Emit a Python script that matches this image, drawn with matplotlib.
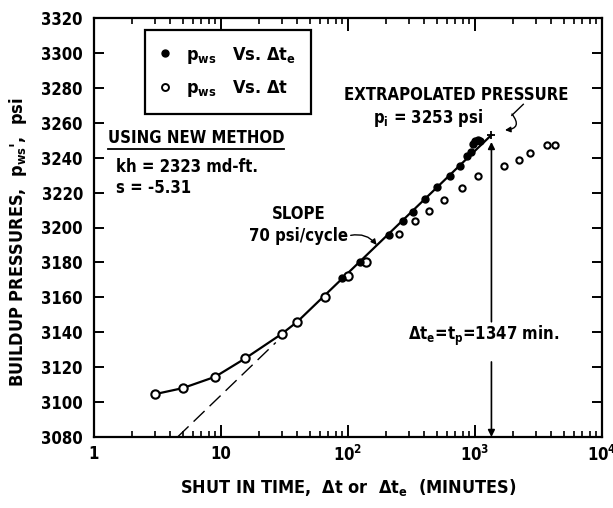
import numpy as np
import matplotlib
matplotlib.use("Agg")
import matplotlib.pyplot as plt
from matplotlib.lines import Line2D

# shut-in pressure vs. equivalent time (filled) and vs. plain shut-in time (open)
dte_min = [90, 125, 210, 272, 327, 404, 506, 635, 762, 872, 926, 965, 1005, 1050, 1095]
pws_dte = [3171, 3180.5, 3195.7, 3203.5, 3209, 3216.5, 3223, 3229.7, 3235.2, 3241,
           3243.5, 3248, 3249.5, 3250, 3249.5]

dt_min = [3, 5, 9, 15.5, 30, 40, 66, 100, 139, 252, 339, 432, 574, 790, 1064,
          1695, 2240, 2704, 3683, 4285]
pws_dt = [3104.5, 3108, 3114.5, 3125, 3139, 3146, 3160, 3172, 3180.5, 3196, 3204,
          3209.5, 3216, 3222.5, 3229.5, 3235, 3238.5, 3242.5, 3247, 3247]

# semilog straight line
p_i = 3253      # psi
slope = 70      # psi/cycle
t_p = 1347      # min
kh = 2323
skin = -5.31

x_ticks = [1, 10, 100, 1000, 10000]
x_ticklabels = ["1", "10", "10$^2$", "10$^3$", "10$^4$"]
y_ticks = list(range(3080, 3321, 20))

plt.rcParams["font.family"] = ["DejaVu Sans"]
plt.rcParams["font.stretch"] = "condensed"
plt.rcParams["font.weight"] = "bold"
plt.rcParams["axes.labelweight"] = "bold"
plt.rcParams["mathtext.fontset"] = "custom"
plt.rcParams["mathtext.rm"] = "DejaVu Sans:weight=bold:stretch=condensed"
plt.rcParams["mathtext.it"] = "DejaVu Sans:weight=bold:stretch=condensed"
plt.rcParams["mathtext.bf"] = "DejaVu Sans:weight=bold:stretch=condensed"
plt.rcParams["mathtext.default"] = "rm"

FS = 12


def mtr(t):
    return p_i - slope * np.log10(t_p / np.asarray(t, dtype=float))


fig = plt.figure(figsize=(6.13, 5.08), dpi=100)
ax = fig.add_axes([94 / 613, 71 / 508, 508 / 613, 419 / 508])
ax.set_xscale("log")
ax.set_xlim(1, 10000)
ax.set_ylim(3080, 3320)

# drawn curve: early points, then the straight line up to t_p
curve_t = dt_min[:5] + [40, t_p]
curve_p = pws_dt[:5] + list(mtr([40, t_p]))
ax.plot(curve_t, curve_p, color="k", lw=1.6, zorder=3)

# dashed extrapolation of the straight line
t0 = t_p * 10 ** ((3080 - p_i) / slope)
ax.plot([t0, 27], mtr([t0, 27]), color="k", lw=1.0, ls=(0, (11, 5)), zorder=2)
ax.plot([1950, 2400], mtr([1950, 2400]), color="k", lw=1.0, zorder=2)

ax.plot(dt_min[:9], pws_dt[:9], "o", ms=6, mfc="white", mec="k", mew=1.5, zorder=4)
ax.plot(dt_min[9:], pws_dt[9:], "o", ms=4.5, mfc="white", mec="k", mew=1.5, zorder=4)
ax.plot(dte_min, pws_dte, "o", ms=5, color="k", zorder=5)
ax.plot([t_p], [p_i], "+", ms=6, mew=1.3, color="k", zorder=6)

# t_p arrows
arr = dict(arrowstyle="-|>", color="k", lw=1.2, mutation_scale=10, shrinkA=0, shrinkB=0)
ax.annotate("", xy=(t_p, 3249), xytext=(t_p, 3146), arrowprops=arr)
ax.annotate("", xy=(t_p, 3080), xytext=(t_p, 3123), arrowprops=arr)
ax.text(1162, 3138, r"$\Delta$t$_e$=t$_p$=%d min." % t_p, ha="center", va="center",
        fontsize=FS)

ax.text(708, 3276, "EXTRAPOLATED PRESSURE", ha="center", va="center", fontsize=FS)
ax.text(427, 3263, "p$_i$ = %d psi" % p_i, ha="center", va="center", fontsize=FS)
ax.annotate("", xy=(1722, 3255.8), xytext=(1955, 3265),
            arrowprops=dict(arrowstyle="-|>", color="k", lw=1.0, mutation_scale=8,
                            shrinkA=0, shrinkB=0, connectionstyle="arc3,rad=-0.9"))

ax.text(41, 3208, "SLOPE", ha="center", va="center", fontsize=FS)
ax.text(41, 3195, "%d psi/cycle" % slope, ha="center", va="center", fontsize=FS)
ax.annotate("", xy=(168, 3190), xytext=(105, 3195.5),
            arrowprops=dict(arrowstyle="-|>", color="k", lw=1.0, mutation_scale=8,
                            shrinkA=0, shrinkB=0, connectionstyle="arc3,rad=-0.3"))

head = ax.text(6.36, 3251, "USING NEW METHOD", ha="center", va="center", fontsize=FS)
ax.text(1.49, 3234.6, "kh = %d md-ft." % kh, ha="left", va="center", fontsize=FS)
ax.text(1.49, 3222.6, "s = %.2f" % skin, ha="left", va="center", fontsize=FS)

handles = [Line2D([], [], marker="o", ls="none", color="k", ms=5),
           Line2D([], [], marker="o", ls="none", mfc="white", mec="k", mew=1.4, ms=5)]
labels = [r"p$_{ws}$   Vs. $\Delta$t$_e$", r"p$_{ws}$   Vs. $\Delta$t"]
leg = ax.legend(handles, labels, loc="upper left", bbox_to_anchor=(0.1, 0.971),
                frameon=True, fancybox=False, edgecolor="k", framealpha=1,
                borderpad=0.8, labelspacing=0.7, handlelength=0.6,
                handletextpad=0.9, fontsize=13, borderaxespad=0)
leg.get_frame().set_linewidth(1.6)

ax.set_xticks(x_ticks)
ax.set_xticklabels(x_ticklabels)
ax.set_yticks(y_ticks)
ax.tick_params(axis="both", which="major", direction="in", width=1.4, labelsize=FS,
               top=True, right=True)
ax.tick_params(axis="x", which="major", length=9, pad=6)
ax.tick_params(axis="y", which="major", length=7, pad=8)
ax.tick_params(axis="x", which="minor", direction="in", length=4, width=1.2,
               top=True)
for s in ax.spines.values():
    s.set_linewidth(1.6)

ax.set_xlabel(r"SHUT IN TIME,  $\Delta$t or  $\Delta$t$_e$  (MINUTES)", fontsize=13,
              labelpad=8)
ax.set_ylabel("BUILDUP PRESSURES,  p$_{ws}$',  psi", fontsize=13)
ax.yaxis.set_label_coords(-0.128, 0.465)

# underline the heading
fig.canvas.draw()
bb = head.get_window_extent().transformed(fig.transFigure.inverted())
fig.add_artist(Line2D([bb.x0, bb.x1], [bb.y0 - 0.004, bb.y0 - 0.004], color="k",
                      lw=1.3, transform=fig.transFigure))

fig.savefig("out.png", dpi=100)
